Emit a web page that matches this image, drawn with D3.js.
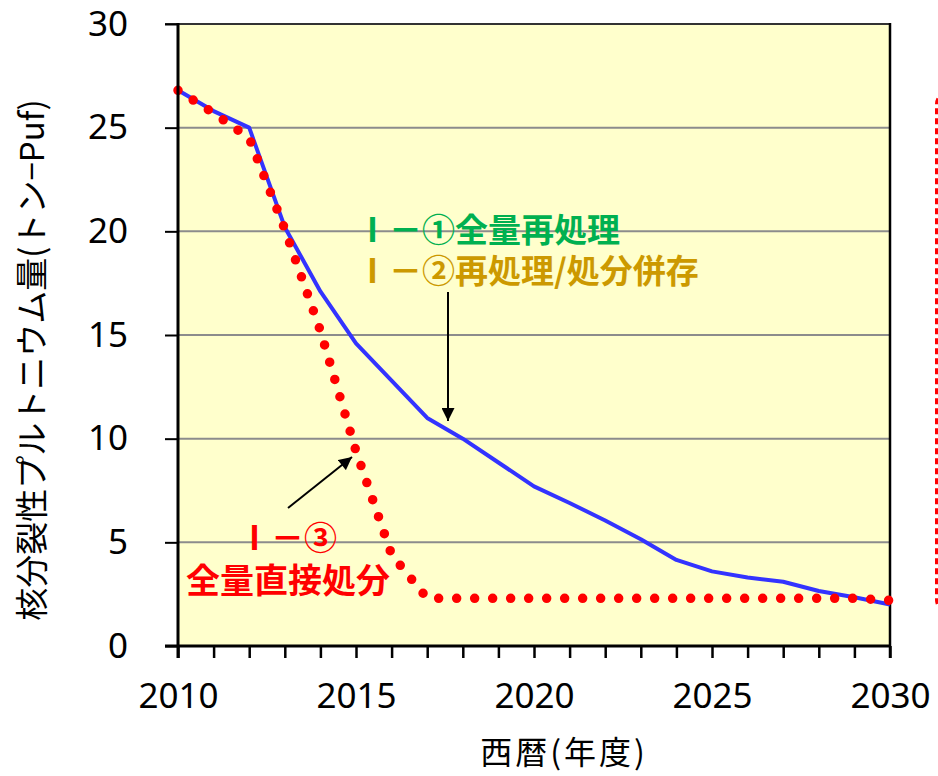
<!DOCTYPE html>
<html>
<head>
<meta charset="utf-8">
<script src="https://cdn.jsdelivr.net/npm/d3@7"></script>
<style>
  body { margin: 0; background: #fff; }
  svg { display: block; }
</style>
</head>
<body>
<div id="chart"></div>
<script>
// Years on the x axis
const years = d3.range(2010, 2031);

// Ⅰ-①/Ⅰ-② : reprocessing (blue solid line)
const reprocessing = [26.8, 25.8, 25.0, 20.2, 17.1, 14.6, 12.8, 11.0, 10.0, 8.85, 7.7,
    6.9, 6.05, 5.15, 4.15, 3.6, 3.3, 3.1, 2.65, 2.35, 2.0];

// Ⅰ-③ : direct disposal (red dotted line)
const directDisposal = [26.8, 25.7, 24.5, 20.1, 15.2, 9.4, 4.4, 2.3, 2.3, 2.3, 2.3,
    2.3, 2.3, 2.3, 2.3, 2.3, 2.3, 2.3, 2.3, 2.3, 2.2];

const yTicks = [0, 5, 10, 15, 20, 25, 30];
const xLabelYears = [2010, 2015, 2020, 2025, 2030];

const width = 938, height = 776;
const margin = {top: 24, right: 48, bottom: 130, left: 178};
const plotW = width - margin.left - margin.right;   // 712
const plotH = height - margin.top - margin.bottom;  // 622

const svg = d3.select("#chart")
    .append("svg")
    .attr("width", width)
    .attr("height", height);

const x = d3.scaleLinear().domain([2010, 2030]).range([0, plotW]);
const y = d3.scaleLinear().domain([0, 30]).range([plotH, 0]);

const g = svg.append("g")
    .attr("transform", "translate(" + margin.left + "," + margin.top + ")");

// plot background
g.append("rect")
    .attr("width", plotW)
    .attr("height", plotH)
    .attr("fill", "#ffffcc");

// horizontal grid lines
g.selectAll(".grid")
    .data(yTicks.filter(d => d > 0 && d < 30))
    .enter()
    .append("line")
    .attr("x1", 0)
    .attr("x2", plotW)
    .attr("y1", d => y(d))
    .attr("y2", d => y(d))
    .attr("stroke", "#8c8c8c")
    .attr("stroke-width", 2);

// top border
g.append("line")
    .attr("x1", -13).attr("x2", plotW)
    .attr("y1", y(30)).attr("y2", y(30))
    .attr("stroke", "#333").attr("stroke-width", 2);

// right border
g.append("line")
    .attr("x1", plotW).attr("x2", plotW)
    .attr("y1", y(30) - 1).attr("y2", plotH + 12)
    .attr("stroke", "#000").attr("stroke-width", 2.5);

const points = (vals) => years.map((yr, i) => [yr, vals[i]]);

const line = d3.line()
    .x(d => x(d[0]))
    .y(d => y(d[1]));

// blue line
g.append("path")
    .datum(points(reprocessing))
    .attr("d", line)
    .attr("fill", "none")
    .attr("stroke", "#3333ff")
    .attr("stroke-width", 4)
    .attr("stroke-linejoin", "round");

// red dotted line
g.append("path")
    .datum(points(directDisposal))
    .attr("d", line)
    .attr("fill", "none")
    .attr("stroke", "#ff0000")
    .attr("stroke-width", 9.5)
    .attr("stroke-linecap", "round")
    .attr("stroke-dasharray", "0,18");

// y axis
const yAxis = g.append("g")
    .call(d3.axisLeft(y).tickValues(yTicks).tickSize(13).tickPadding(37));
yAxis.select(".domain").remove();
yAxis.selectAll(".tick line").attr("stroke", "#000").attr("stroke-width", 2);
yAxis.selectAll(".tick text")
    .attr("font-family", "'Noto Sans', sans-serif")
    .attr("font-size", 35)
    .attr("fill", "#000");

// x axis (tick every year, labels every five)
const xAxis = g.append("g")
    .attr("transform", "translate(0," + plotH + ")")
    .call(d3.axisBottom(x).tickValues(years).tickSize(12).tickPadding(25)
        .tickFormat(d => xLabelYears.includes(d) ? String(d) : ""));
xAxis.select(".domain").remove();
xAxis.selectAll(".tick line").attr("stroke", "#000").attr("stroke-width", 2.5);
xAxis.selectAll(".tick text")
    .attr("font-family", "'Noto Sans', sans-serif")
    .attr("font-size", 35)
    .attr("fill", "#000");

// axis lines
g.append("line")
    .attr("x1", 0).attr("x2", 0)
    .attr("y1", y(30) - 1).attr("y2", plotH + 12)
    .attr("stroke", "#000").attr("stroke-width", 3);
g.append("line")
    .attr("x1", -13).attr("x2", plotW + 1)
    .attr("y1", plotH).attr("y2", plotH)
    .attr("stroke", "#000").attr("stroke-width", 3);

// axis titles
svg.append("text")
    .attr("transform", "translate(44,360) rotate(-90)")
    .attr("text-anchor", "middle")
    .attr("font-family", "'Noto Sans CJK JP', sans-serif")
    .attr("font-size", 33)
    .attr("fill", "#000")
    .text("核分裂性プルトニウム量(トン−Puf)");

svg.append("text")
    .attr("x", 564)
    .attr("y", 764)
    .attr("text-anchor", "middle")
    .attr("font-family", "'Noto Sans CJK JP', sans-serif")
    .attr("font-size", 32)
    .attr("letter-spacing", 3)
    .attr("fill", "#000")
    .text("西暦(年度)");

// annotations
const note = (tx, ty, txt, color, size) => svg.append("text")
    .attr("x", tx).attr("y", ty)
    .attr("font-family", "'Noto Sans CJK JP', sans-serif")
    .attr("font-weight", "bold")
    .attr("font-size", size)
    .attr("fill", color)
    .text(txt);

note(356, 242, "Ⅰ－①全量再処理", "#00b050", 33);
note(356, 283, "Ⅰ－②再処理/処分併存", "#cc9900", 33);
note(238, 550, "Ⅰ－③", "#ff0000", 33);
note(186, 593, "全量直接処分", "#ff0000", 34);

// arrow marker
svg.append("defs").append("marker")
    .attr("id", "arrow")
    .attr("viewBox", "0 0 10 10")
    .attr("refX", 10).attr("refY", 5)
    .attr("markerWidth", 7).attr("markerHeight", 6.5)
    .attr("markerUnits", "strokeWidth")
    .attr("orient", "auto")
    .append("path")
    .attr("d", "M0,0 L10,5 L0,10 Z")
    .attr("fill", "#000");

svg.append("line")
    .attr("x1", 448).attr("y1", 292)
    .attr("x2", 448).attr("y2", 421)
    .attr("stroke", "#000").attr("stroke-width", 2)
    .attr("marker-end", "url(#arrow)");

svg.append("line")
    .attr("x1", 288).attr("y1", 508)
    .attr("x2", 352).attr("y2", 457)
    .attr("stroke", "#000").attr("stroke-width", 2)
    .attr("marker-end", "url(#arrow)");

// red dashed box at the right edge (cut off)
svg.append("rect")
    .attr("x", 936.5).attr("y", 92)
    .attr("width", 120).attr("height", 520)
    .attr("rx", 12)
    .attr("fill", "none")
    .attr("stroke", "#ff0000")
    .attr("stroke-width", 3)
    .attr("stroke-dasharray", "6,4");
</script>
</body>
</html>
